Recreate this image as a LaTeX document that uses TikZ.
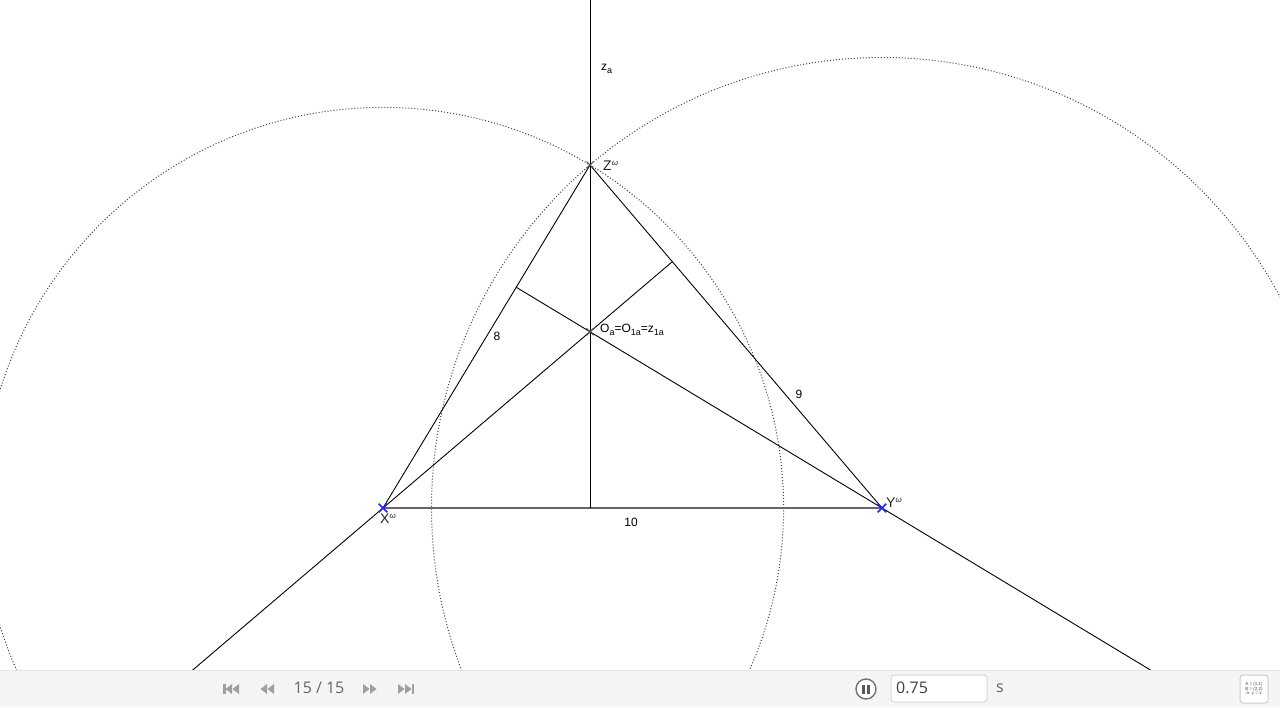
\documentclass[tikz,border=0pt]{standalone}
\usepackage{fontspec}
\setmainfont{Liberation Sans}
\newfontfamily\uifont{Open Sans}
\usetikzlibrary{calc,shapes.misc}
\definecolor{tbbg}{HTML}{F5F5F5}
\definecolor{tbline}{HTML}{E4E4E4}
\definecolor{icon}{HTML}{A0A0A0}
\definecolor{uitext}{HTML}{666666}
\definecolor{ptblue}{HTML}{2222FF}
\newcommand\mysub[1]{\raisebox{-3pt}{\fontsize{9}{9}\selectfont #1}}
\newcommand\mysup[1]{\raisebox{5pt}{\fontsize{8}{8}\selectfont #1}}
\tikzset{
  seg/.style={black, line width=0.9pt},
  circ/.style={black!75, line width=1pt, dotted},
  lbl/.style={inner sep=0pt, font=\fontsize{12}{14}\selectfont},
  ptlbl/.style={inner sep=0pt, font=\fontsize{14}{16}\selectfont, text=black!85},
  bluemark/.style={draw=ptblue, cross out, line width=1.6pt, minimum size=7pt, inner sep=0pt},
  graymark/.style={draw=black!70, cross out, line width=1pt, minimum size=6pt, inner sep=0pt},
  tbtext/.style={inner sep=0pt, font=\uifont\fontsize{16}{18}\selectfont, text=uitext},
  tbicon/.style={fill=icon, draw=none}
}
\begin{document}
\begin{tikzpicture}[x=1pt,y=-1pt]
\useasboundingbox (0,0) rectangle (1280,707);
\fill[white] (0,0) rectangle (1280,707);
% points
\coordinate (X) at (383,508);
\coordinate (Y) at (882,508);
\coordinate (Z) at (590,165);
\coordinate (hz) at ($(X)!(Z)!(Y)$);
\coordinate (hx) at ($(Z)!(X)!(Y)$);
\coordinate (hy) at ($(Z)!(Y)!(X)$);
\coordinate (O) at (intersection of X--hx and Z--hz);
\coordinate (top) at (590,-5);
\coordinate (xend) at ($(hx)!1.8!(X)$);
\coordinate (yend) at ($(hy)!1.8!(Y)$);
\begin{scope}
\clip (0,0) rectangle (1280,670);
% circles
\draw[circ] (X) circle[radius=400.6pt];
\draw[circ] (Y) circle[radius=450.5pt];
% triangle
\draw[black!60, line width=1.6pt] (X) -- (Y);
\draw[seg] (X) -- (Z) -- (Y);
% altitudes
\draw[seg] (top) -- (hz);
\draw[seg] (hx) -- (xend);
\draw[seg] (hy) -- (yend);
\end{scope}
% markers
\node[bluemark] (mX) at (X) {};
\node[bluemark] (mY) at (Y) {};
\node[graymark] (mZ) at (Z) {};
\node[graymark] (mO) at (O) {};
% labels
\node[ptlbl, anchor=west] (lZ) at (603,166) {Z\mysup{\itshape ω}};
\node[ptlbl, anchor=west] (lX) at (380,519) {X\mysup{\itshape ω}};
\node[ptlbl, anchor=west] (lY) at (886,503) {Y\mysup{\itshape ω}};
\node[lbl, anchor=west] (lO) at (600,330) {O\mysub{a}=O\mysub{1a}=z\mysub{1a}};
\node[lbl, anchor=west] (lza) at (601,69) {z\mysub{a}};
\node[lbl] (l8) at (497,336) {8};
\node[lbl] (l9) at (799,394) {9};
\node[lbl] (l10) at (631,522) {10};
% toolbar
\fill[tbbg] (0,670) rectangle (1280,707);
\draw[tbline, line width=1pt] (0,670.5) -- (1280,670.5);
\foreach \yy in {675,683,691,699} {
  \draw[tbline, line width=0.8pt, dash pattern=on 0.8pt off 7.2pt] (0,\yy) -- (1280,\yy);
}
% skip back
\fill[tbicon] (223,684) rectangle (225.5,694);
\fill[tbicon] (232,684) -- (225.5,689) -- (232,694) -- cycle;
\fill[tbicon] (239,684) -- (232.5,689) -- (239,694) -- cycle;
% rewind
\fill[tbicon] (267,684) -- (260.5,689) -- (267,694) -- cycle;
\fill[tbicon] (274,684) -- (267.5,689) -- (274,694) -- cycle;
\node[tbtext] (counter) at (319,688) {15 / 15};
% forward
\fill[tbicon] (363,684) -- (369.5,689) -- (363,694) -- cycle;
\fill[tbicon] (370,684) -- (376.5,689) -- (370,694) -- cycle;
% skip forward
\fill[tbicon] (398,684) -- (404.5,689) -- (398,694) -- cycle;
\fill[tbicon] (405,684) -- (411.5,689) -- (405,694) -- cycle;
\fill[tbicon] (411.5,684) rectangle (414,694);
% pause
\draw[black!55, fill=white, line width=1.4pt] (866,689) circle[radius=10pt];
\fill[black!65] (862,684.5) rectangle (865.2,693.5);
\fill[black!65] (866.8,684.5) rectangle (870,693.5);
% input box
\draw[black!15, fill=white, line width=1pt, rounded corners=3pt] (891,675) rectangle (987,702);
\node[tbtext, anchor=west, text=black!75] (val) at (896,688) {0.75};
\node[tbtext] (unit) at (1000,688) {s};
% algebra icon
\draw[black!20, fill=white, line width=1pt, rounded corners=3pt] (1240,675) rectangle (1268,703);
\node[inner sep=0pt, font=\fontsize{4.5}{5}\selectfont, text=black!70, align=center] (alg) at (1254,689) {A = (1,1)\\[-0.5pt]B = (2,2)\\[-0.5pt]a: y = x};
\end{tikzpicture}
\end{document}
